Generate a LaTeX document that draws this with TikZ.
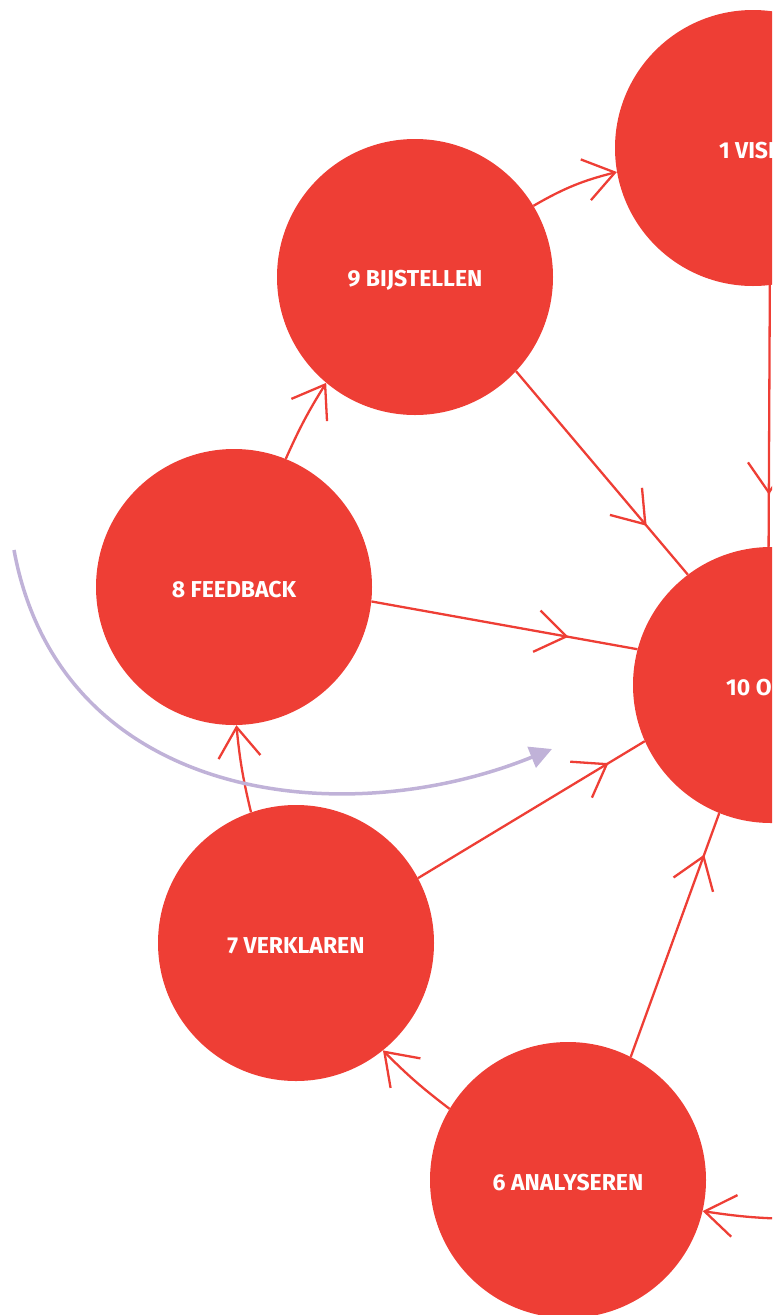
\documentclass[tikz,border=0pt]{standalone}
\usepackage{fontspec}
\setmainfont{Fira Sans}
\usetikzlibrary{arrows.meta,decorations.markings}
\definecolor{stepred}{RGB}{238,62,53}
\definecolor{arclilac}{RGB}{192,178,216}
\begin{document}
\begin{tikzpicture}[x=1pt,y=-1pt,
  stage/.style={circle, fill=stepred, minimum size=276pt, inner sep=0pt, text=white, font=\bfseries\fontsize{23}{23}\selectfont, label={[text=white, font=\bfseries\fontsize{23}{23}\selectfont, yshift=-3pt]center:#1}},
  link/.style={draw=stepred, line width=2.3pt},
  endtip/.style={-{Straight Barb[length=30pt,width=42pt]}},
  midtip/.style={postaction={decorate}, decoration={markings, mark=at position #1 with {\arrow[stepred]{Straight Barb[length=30pt,width=42pt]}}}}]
\useasboundingbox (0,0) rectangle (772,1315);
\clip (0,0) rectangle (772,1315);
\node[stage={1 VISIE}] (n1) at (753,148){};
\node[stage={9 BIJSTELLEN}] (n9) at (415,277){};
\node[stage={8 FEEDBACK}] (n8) at (234,587){};
\node[stage={}] (n10) at (771,685){};
\node[text=white, font=\bfseries\fontsize{23}{23}\selectfont, anchor=west, inner sep=0pt] (l10) at (726,688){10 O};
\node[stage={7 VERKLAREN}] (n7) at (296,943){};
\node[stage={6 ANALYSEREN}] (n6) at (568,1180){};
\coordinate (c5) at (800,1219);
\draw[link, endtip](n9.31.6) to[bend left=8] (n1.190);
\draw[link, midtip=0.76](n9.-43.2) -- (n10.127.5);
\draw[link, midtip=0.80](n1.-83.6) -- (n10.91);
\draw[link, midtip=0.74](n8.-6.2) -- (n10.165.3);
\draw[link, endtip](n8.68.5) to[bend left=4] (n9.230.3);
\draw[link, endtip](n7.109.4) to[bend left=4] (n8.-89);
\draw[link, midtip=0.84](n7.28.4) -- (n10.204.9);
\draw[link, midtip=0.83](n6.63.1) -- (n10.248.7);
\draw[link, endtip](n6.149.3) to[bend left=4] (n7.-51.7);
\draw[link, endtip](c5) to[bend left=4] (n6.-13.6);
\draw[arclilac, line width=3.5pt, -{Triangle[length=22pt,width=22pt]}] (14,550) .. controls (60,800) and (340,835) .. (552,749);
\end{tikzpicture}
\end{document}
